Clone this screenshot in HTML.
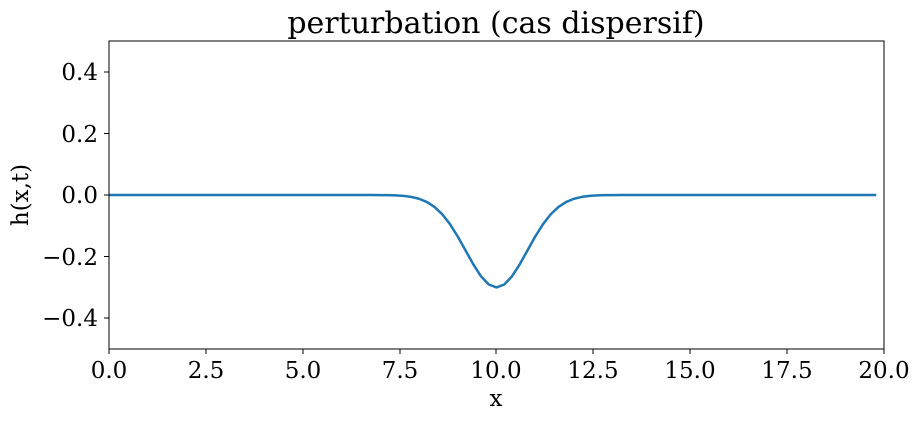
<!DOCTYPE html>
<html><head><meta charset="utf-8"><style>
html,body{margin:0;padding:0;background:#fff;}
svg text{font-family:"DejaVu Serif","Liberation Serif",serif;fill:#000;}
</style></head><body>
<svg id="s" width="921" height="420" xmlns="http://www.w3.org/2000/svg">
<rect width="921" height="420" fill="#fff"/>
<text x="496" y="33" font-size="30" text-anchor="middle">perturbation (cas dispersif)</text>
<g font-size="23" text-anchor="middle">
<text x="109" y="378">0.0</text>
<text x="206" y="378">2.5</text>
<text x="303" y="378">5.0</text>
<text x="400" y="378">7.5</text>
<text x="496" y="378">10.0</text>
<text x="593" y="378">12.5</text>
<text x="690" y="378">15.0</text>
<text x="787" y="378">17.5</text>
<text x="884" y="378">20.0</text>
</g>
<g font-size="23" text-anchor="end">
<text x="98" y="80">0.4</text>
<text x="98" y="142">0.2</text>
<text x="98" y="203">0.0</text>
<text x="98" y="265">−0.2</text>
<text x="98" y="326">−0.4</text>
</g>
<g stroke="#000" stroke-width="1">
<line x1="109" y1="349" x2="109" y2="354"/><line x1="206" y1="349" x2="206" y2="354"/>
<line x1="303" y1="349" x2="303" y2="354"/><line x1="400" y1="349" x2="400" y2="354"/>
<line x1="496" y1="349" x2="496" y2="354"/><line x1="593" y1="349" x2="593" y2="354"/>
<line x1="690" y1="349" x2="690" y2="354"/><line x1="787" y1="349" x2="787" y2="354"/>
<line x1="884" y1="349" x2="884" y2="354"/>
<line x1="104" y1="72" x2="109" y2="72"/><line x1="104" y1="133.5" x2="109" y2="133.5"/>
<line x1="104" y1="195" x2="109" y2="195"/><line x1="104" y1="256.5" x2="109" y2="256.5"/>
<line x1="104" y1="318" x2="109" y2="318"/>
</g>
<text x="496" y="406" font-size="23" text-anchor="middle">x</text>
<text transform="translate(28,195) rotate(-90)" font-size="23" text-anchor="middle">h(x,t)</text>
<path id="c" fill="none" stroke="#1f77b4" stroke-width="2.5" stroke-linejoin="round"/>
<rect x="109" y="41" width="775" height="308" fill="none" stroke="#000" stroke-width="1"/>
</svg>
<script>
var d="";for(var i=0;i<=99;i++){var x=i*0.2;var y=-0.3*Math.exp(-(x-10)*(x-10)/1.25);
var px=109+x*38.75,py=195-y*308;d+=(i?"L":"M")+px.toFixed(2)+","+py.toFixed(2);}
document.getElementById("c").setAttribute("d",d);
</script>
</body></html>
